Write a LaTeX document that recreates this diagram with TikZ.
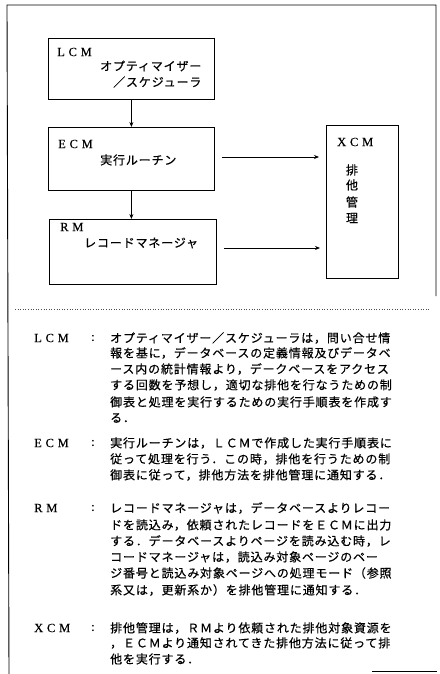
\documentclass[tikz,border=0pt]{standalone}
\usepackage{fontspec}
\setmainfont{Liberation Serif}
\newfontfamily\jp[LetterSpace=7,FakeBold=0.4]{Noto Sans CJK JP}
\newfontfamily\lat[LetterSpace=30,FakeBold=0.3]{Liberation Serif}
\usetikzlibrary{arrows.meta}
\begin{document}
\begin{tikzpicture}[x=1pt,y=-1pt,
  box/.style={draw,line width=0.8pt,anchor=north west,inner sep=0},
  lab/.style={anchor=west,inner sep=0,font=\lat\fontsize{12.5}{12.5}\selectfont},
  jt/.style={anchor=west,inner sep=0,font=\jp\fontsize{12}{12}\selectfont},
  jc/.style={anchor=center,inner sep=0,font=\jp\fontsize{12}{12}\selectfont},
  arr/.style={line width=0.8pt,-{Stealth[length=5pt,width=4pt]}},
  frame/.style={line width=0.9pt}]
\useasboundingbox (0,0) rectangle (439,674);
% frame
\coordinate (f1) at (7,5);
\coordinate (f2) at (436,5);
\coordinate (f3) at (436,296);
\coordinate (f4) at (9,674);
\coordinate (b1) at (372,671);
\coordinate (b2) at (437,671);
\draw[frame] (f4) -- (f1) -- (f2) -- (f3);
\draw[frame] (b1) -- (b2);
% boxes
\node[box,minimum width=166pt,minimum height=61pt] (lcm) at (48,38) {};
\node[box,minimum width=166pt,minimum height=63pt] (ecm) at (48,127) {};
\node[box,minimum width=167pt,minimum height=65pt] (rm) at (49,219) {};
\node[box,minimum width=72pt,minimum height=153pt] (xcm) at (326,125) {};
% box texts
\node[lab] (lcmL) at (57,52) {LCM};
\node[jt] (lcmT1) at (100,66) {オプティマイザー};
\node[jt] (lcmT2) at (113,82) {／スケジューラ};
\node[lab] (ecmL) at (58,144) {ECM};
\node[jt] (ecmT) at (100,160) {実行ルーチン};
\node[lab] (rmL) at (60,227) {RM};
\node[jt] (rmT) at (84,243) {レコードマネージャ};
\node[lab] (xcmL) at (337,142) {XCM};
\foreach \yy/\cc [count=\i] in {170/排,185/他,202/管,218/理}
  \node[jc,name=xv\i] at (352,\yy) {\cc};
% connectors
\draw[arr] (lcm.south) -- (ecm.north);
\draw[arr] (ecm.south) -- (rm.north -| ecm.south);
\coordinate (e1) at (222,157);
\coordinate (e2) at (319,157);
\coordinate (r1) at (224,248);
\coordinate (r2) at (320,248);
\draw[arr] (e1) -- (e2);
\draw[arr] (r1) -- (r2);
% dotted separator
\coordinate (d1) at (15,309);
\coordinate (d2) at (430,309);
\draw[line width=0.6pt,dash pattern=on 1pt off 1.6pt,black!70] (d1) -- (d2);
% description
\node[lab] (dL1) at (34,338) {LCM};
\node[lab] (dC1) at (91,338) {:};
\node[lab] (dL2) at (34,443) {ECM};
\node[lab] (dC2) at (91,443) {:};
\node[lab] (dL3) at (34,508) {RM};
\node[lab] (dC3) at (91,508) {:};
\node[lab] (dL4) at (34,628) {XCM};
\node[lab] (dC4) at (91,628) {:};
\foreach \yy/\tt [count=\i] in {
  338/オプティマイザー／スケジューラは，問い合せ情,
  353/報を基に，データベースの定義情報及びデータベ,
  369/ース内の統計情報より，デークベースをアクセス,
  385/する回数を予想し，適切な排他を行なうための制,
  402/御表と処理を実行するための実行手順表を作成す,
  418/る．,
  443/実行ルーチンは，ＬＣＭで作成した実行手順表に,
  459/従って処理を行う．この時，排他を行うための制,
  475/御表に従って，排他方法を排他管理に通知する．,
  508/レコードマネージャは，データベースよりレコー,
  525/ドを読込み，依頼されたレコードをＥＣＭに出力,
  541/する．データベースよりページを読み込む時，レ,
  557/コードマネージャは，読込み対象ページのペー,
  573/ジ番号と読込み対象ページへの処理モード（参照,
  590/系又は，更新系か）を排他管理に通知する．,
  628/排他管理は，ＲＭより依頼された排他対象資源を,
  643/，ＥＣＭより通知されてきた排他方法に従って排,
  659/他を実行する．}
  \node[jt,name=t\i] at (110,\yy) {\tt};
\end{tikzpicture}
\end{document}
